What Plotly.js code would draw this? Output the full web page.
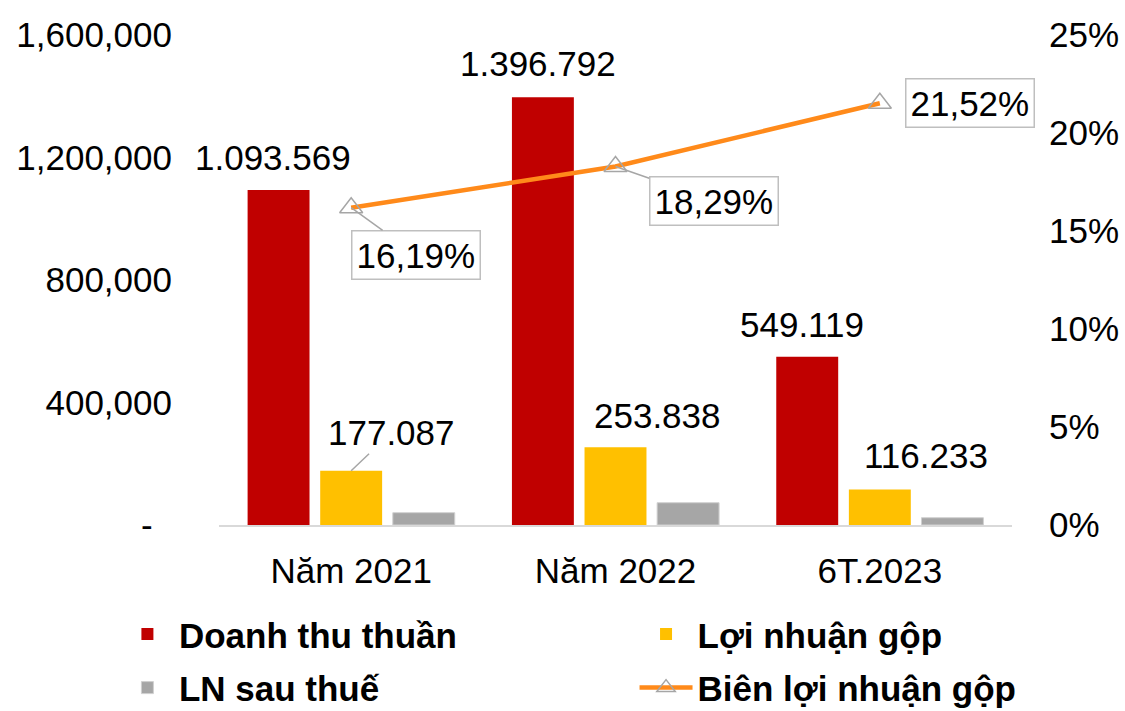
<!DOCTYPE html>
<html>
<head>
<meta charset="utf-8">
<script src="https://cdn.plot.ly/plotly-3.0.1.min.js"></script>
<style>html,body{margin:0;padding:0;background:#fff;}#chart{width:1125px;height:711px;}</style>
</head>
<body>
<div id="chart"></div>
<script>
const categories = ["Năm 2021", "Năm 2022", "6T.2023"];
const doanhThu = [1093569, 1396792, 549119];
const loiNhuanGop = [177087, 253838, 116233];
const lnSauThue = [40200, 72800, 23800];
const bienLoiNhuan = [0.1619, 0.1829, 0.2152];
const doanhThuLabels = ["1.093.569", "1.396.792", "549.119"];
const loiNhuanLabels = ["177.087", "253.838", "116.233"];
const bienLabels = ["16,19%", "18,29%", "21,52%"];
const leftTickVals = [0, 400000, 800000, 1200000, 1600000];
const leftTickText = ["-\u00a0\u00a0", "400,000", "800,000", "1,200,000", "1,600,000"];
const rightTickVals = [0, 0.05, 0.10, 0.15, 0.20, 0.25];
const rightTickText = ["0%", "5%", "10%", "15%", "20%", "25%"];

const FONT = "Liberation Sans, Arial, sans-serif";
const FS = 35;

const traces = [
  {type: "bar", name: "Doanh thu thuần", x: categories, y: doanhThu, marker: {color: "#C00000"},
   legend: "legend", legendgroup: "a", hoverinfo: "skip"},
  {type: "bar", name: "Lợi nhuận gộp", x: categories, y: loiNhuanGop, marker: {color: "#FFC000"},
   legend: "legend2", legendgroup: "b", hoverinfo: "skip"},
  {type: "bar", name: "LN sau thuế", x: categories, y: lnSauThue, marker: {color: "#A6A6A6", line: {color: "#d0d0d0", width: 1}},
   legend: "legend", legendgroup: "c", hoverinfo: "skip"},
  {type: "scatter", mode: "lines+markers", name: "Biên lợi nhuận gộp", x: categories, y: bienLoiNhuan, yaxis: "y2",
   legend: "legend2", legendgroup: "d",
   line: {color: "#FF8A1A", width: 4.5},
   marker: {symbol: "triangle-up-open", size: 20, color: "#A6A6A6", line: {color: "#A6A6A6", width: 1.5}},
   hoverinfo: "skip"}
];

const ann = [];
const redShift = [33, 34, 32];
doanhThu.forEach((v, i) => {
  ann.push({x: categories[i], y: v, xref: "x", yref: "y", text: doanhThuLabels[i], showarrow: false,
    xshift: -78, yshift: redShift[i], font: {family: FONT, size: FS, color: "#000"}});
});
ann.push({x: categories[0], y: loiNhuanGop[0], xref: "x", yref: "y", text: loiNhuanLabels[0], showarrow: true,
  arrowhead: 0, arrowwidth: 1.5, arrowcolor: "#A6A6A6", ax: 40, ay: -38, standoff: 0,
  font: {family: FONT, size: FS, color: "#000"}});
ann.push({x: categories[1], y: loiNhuanGop[1], xref: "x", yref: "y", text: loiNhuanLabels[1], showarrow: false,
  xshift: 42, yshift: 32, font: {family: FONT, size: FS, color: "#000"}});
ann.push({x: categories[2], y: loiNhuanGop[2], xref: "x", yref: "y", text: loiNhuanLabels[2], showarrow: false,
  xshift: 46, yshift: 34, font: {family: FONT, size: FS, color: "#000"}});
const boxStyle = {bordercolor: "#BFBFBF", borderwidth: 1.5, borderpad: 4, bgcolor: "#fff",
  font: {family: FONT, size: FS, color: "#000"}};
ann.push(Object.assign({x: categories[0], y: bienLoiNhuan[0], xref: "x", yref: "y2", text: bienLabels[0],
  showarrow: true, arrowhead: 0, arrowwidth: 1.5, arrowcolor: "#A6A6A6", ax: 65, ay: 47, standoff: 0}, boxStyle));
ann.push(Object.assign({x: categories[1], y: bienLoiNhuan[1], xref: "x", yref: "y2", text: bienLabels[1],
  showarrow: true, arrowhead: 0, arrowwidth: 1.5, arrowcolor: "#A6A6A6", ax: 98, ay: 34, standoff: 0}, boxStyle));
ann.push(Object.assign({x: categories[2], y: bienLoiNhuan[2], xref: "x", yref: "y2", text: bienLabels[2],
  showarrow: false, xshift: 90}, boxStyle));

const legendFont = {family: FONT, size: 35, color: "#000", weight: "bold"};
const layout = {
  width: 1125, height: 711,
  margin: {l: 219, r: 113, t: 35, b: 186, autoexpand: false},
  paper_bgcolor: "#fff", plot_bgcolor: "#fff",
  barmode: "group", bargap: 0.176, bargroupgap: 0.147,
  font: {family: FONT, size: FS, color: "#000"},
  xaxis: {type: "category", range: [-0.5, 2.5], autorange: false, showgrid: false, zeroline: false, showline: true,
    linecolor: "#D9D9D9", linewidth: 2,
    ticks: "", ticklabelstandoff: 14, tickfont: {family: FONT, size: FS, color: "#000"}, fixedrange: true},
  yaxis: {range: [0, 1600000], tickvals: leftTickVals, ticktext: leftTickText, showgrid: false, zeroline: false,
    showline: false, ticks: "", ticklabelstandoff: 46, tickfont: {family: FONT, size: FS, color: "#000"}, fixedrange: true},
  yaxis2: {overlaying: "y", side: "right", range: [0, 0.25], tickvals: rightTickVals, ticktext: rightTickText,
    showgrid: false, zeroline: false, showline: false, ticks: "", ticklabelstandoff: 36,
    tickfont: {family: FONT, size: FS, color: "#000"}, fixedrange: true},
  showlegend: true,
  legend: {orientation: "v", x: -0.13, xanchor: "left", y: -0.163, yanchor: "top",
    font: legendFont, traceorder: "grouped", itemwidth: 53, tracegroupgap: 5, bgcolor: "rgba(0,0,0,0)"},
  legend2: {orientation: "v", x: 0.524, xanchor: "left", y: -0.163, yanchor: "top",
    font: legendFont, traceorder: "grouped", itemwidth: 53, tracegroupgap: 5, bgcolor: "rgba(0,0,0,0)"},
  annotations: ann
};

Plotly.newPlot("chart", traces, layout, {displayModeBar: false, staticPlot: true});
</script>
</body>
</html>
